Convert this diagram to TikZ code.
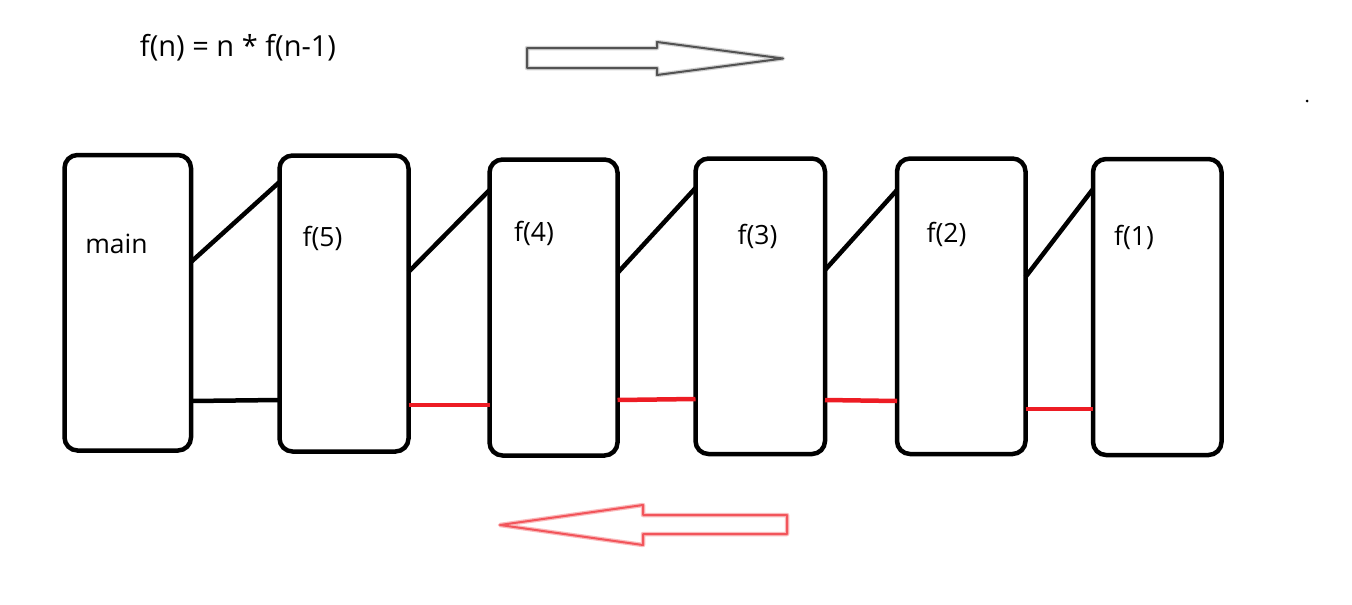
\documentclass[tikz,border=0pt]{standalone}
\usepackage{fontspec}
\setmainfont{Open Sans}
\definecolor{paintred}{RGB}{237,28,36}
\begin{document}
\begin{tikzpicture}[x=1pt,y=-1pt,
  frame/.style={draw=black,line width=4.5pt,rounded corners=13pt,inner sep=0pt,outer sep=0pt,fill=white},
  lbl/.style={anchor=base,inner sep=0pt,font=\fontsize{26.5}{32}\selectfont},
  call/.style={draw=black,line width=4.5pt},
  ret/.style={draw=paintred,line width=4.5pt},
  bigarrow/.style={line join=round}]
\useasboundingbox (0,0) rectangle (1352,605);
% boxes
\node[frame,minimum width=126.5pt,minimum height=295.5pt] (main) at (127.75,302.75) {};
\node[frame,minimum width=129pt,minimum height=296pt] (f5) at (344,303.5) {};
\node[frame,minimum width=128pt,minimum height=296pt] (f4) at (553.5,307.5) {};
\node[frame,minimum width=129.5pt,minimum height=295.5pt] (f3) at (760.25,306.25) {};
\node[frame,minimum width=128.5pt,minimum height=295.5pt] (f2) at (961.25,306.25) {};
\node[frame,minimum width=128.5pt,minimum height=296pt] (f1) at (1157.25,307) {};
% labels
\node[lbl] (tmain) at (116.5,253) {main};
\node[lbl] (t5) at (322.5,246.5) {f(5)};
\node[lbl] (t4) at (534,241) {f(4)};
\node[lbl] (t3) at (757.5,244) {f(3)};
\node[lbl] (t2) at (946.5,242) {f(2)};
\node[lbl] (t1) at (1134,245) {f(1)};
\node[lbl,font=\fontsize{29}{35}\selectfont] (formula) at (238,56) {f(n) = n * f(n-1)};
% calls
\draw[call] (main.east |- 0,262) -- (f5.west |- 0,182);
\draw[call] (f5.east |- 0,272) -- (f4.west |- 0,190);
\draw[call] (f4.east |- 0,273) -- (f3.west |- 0,188);
\draw[call] (f3.east |- 0,270) -- (f2.west |- 0,190);
\draw[call] (f2.east |- 0,277) -- (f1.west |- 0,189);
% returns
\draw[call] (main.east |- 0,401) -- (f5.west |- 0,400);
\draw[ret] (f5.east |- 0,405) -- (f4.west |- 0,405);
\draw[ret] (f4.east |- 0,400) -- (f3.west |- 0,399);
\draw[ret] (f3.east |- 0,400) -- (f2.west |- 0,401);
\draw[ret] (f2.east |- 0,409) -- (f1.west |- 0,409);
% direction arrows
\path[bigarrow,fill=white,draw=gray!35,line width=4.5pt] (527,48) -- (657,48) -- (657,42) -- (783,58.5) -- (657,75) -- (657,68) -- (527,68) -- cycle;
\draw[bigarrow,draw=gray!65!black,line width=2pt] (527,48) -- (657,48) -- (657,42) -- (783,58.5) -- (657,75) -- (657,68) -- (527,68) -- cycle;
\path[bigarrow,fill=white,draw=paintred!30,line width=4.5pt] (787,515) -- (643,515) -- (643,505) -- (500,525) -- (643,545) -- (643,534) -- (787,534) -- cycle;
\draw[bigarrow,draw=paintred!75,line width=2pt] (787,515) -- (643,515) -- (643,505) -- (500,525) -- (643,545) -- (643,534) -- (787,534) -- cycle;
% dot
\fill[black] (1307,101) circle (1.5pt);
\end{tikzpicture}
\end{document}
